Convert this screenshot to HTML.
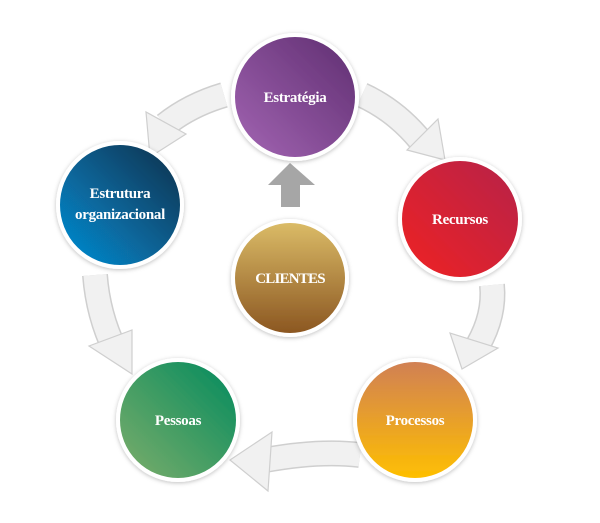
<!DOCTYPE html>
<html><head><style>
html,body{margin:0;padding:0;background:#fff;width:600px;height:523px;overflow:hidden}
text{font-family:"Liberation Serif",serif;font-weight:bold;fill:#fff;font-size:15px;text-anchor:middle;letter-spacing:-0.3px}
</style></head><body>
<svg width="600" height="523" viewBox="0 0 600 523" xmlns="http://www.w3.org/2000/svg">
<defs>
<linearGradient id="gE" x1="1" y1="0" x2="0" y2="1"><stop offset="0" stop-color="#5e2d70"/><stop offset="1" stop-color="#a466b4"/></linearGradient>
<linearGradient id="gR" x1="1" y1="0" x2="0" y2="1"><stop offset="0" stop-color="#b5234a"/><stop offset="1" stop-color="#f02222"/></linearGradient>
<linearGradient id="gP" x1="0" y1="0" x2="0" y2="1"><stop offset="0" stop-color="#d07f55"/><stop offset="1" stop-color="#ffc000"/></linearGradient>
<linearGradient id="gPe" x1="1" y1="0" x2="0" y2="1"><stop offset="0" stop-color="#008a5e"/><stop offset="1" stop-color="#7fae6a"/></linearGradient>
<linearGradient id="gEs" x1="1" y1="0" x2="0" y2="1"><stop offset="0" stop-color="#0a2e48"/><stop offset="1" stop-color="#0590d8"/></linearGradient>
<linearGradient id="gC" x1="0" y1="0" x2="0" y2="1"><stop offset="0" stop-color="#dcbd68"/><stop offset="1" stop-color="#8a5520"/></linearGradient>
<filter id="sh" x="-20%" y="-20%" width="140%" height="140%"><feDropShadow dx="0" dy="1" stdDeviation="2" flood-color="#000" flood-opacity="0.25"/></filter>
</defs>
<g fill="none" stroke-linecap="butt">
<g stroke="#cfcfcf" stroke-width="26">
<path d="M224 95 Q190 105 165 125"/>
<path d="M362 95 Q395 110 420 140"/>
<path d="M492 285 Q495 315 478 345"/>
<path d="M360 455 Q320 450 265 460"/>
<path d="M95 275 Q98 315 115 350"/>
</g>
<g stroke="#f1f1f1" stroke-width="23">
<path d="M224 95 Q190 105 165 125"/>
<path d="M362 95 Q395 110 420 140"/>
<path d="M492 285 Q495 315 478 345"/>
<path d="M360 455 Q320 450 265 460"/>
<path d="M95 275 Q98 315 115 350"/>
</g>
</g>
<g fill="#f1f1f1" stroke="#cfcfcf" stroke-width="1.2">
<polygon points="150,157 146,112 186,134"/>
<polygon points="445,160 407,150 438,119"/>
<polygon points="462,369 450,333 498,348"/>
<polygon points="230,460 272,432 268,491"/>
<polygon points="132,374 89,346 132,330"/>
</g>
<g fill="#a6a6a6">
<rect x="281" y="183" width="19" height="24"/>
<polygon points="268,185 290,163 315,185"/>
</g>
<g stroke="#fff" stroke-width="4" filter="url(#sh)">
<circle cx="295" cy="97" r="62" fill="url(#gE)"/>
<circle cx="460" cy="219" r="60" fill="url(#gR)"/>
<circle cx="415" cy="420" r="60" fill="url(#gP)"/>
<circle cx="178" cy="420" r="60" fill="url(#gPe)"/>
<circle cx="120" cy="205" r="62" fill="url(#gEs)"/>
<circle cx="290" cy="278" r="57" fill="url(#gC)"/>
</g>
<text x="295" y="102">Estratégia</text>
<text x="460" y="224">Recursos</text>
<text x="415" y="425">Processos</text>
<text x="178" y="425">Pessoas</text>
<text x="120" y="198">Estrutura</text>
<text x="120" y="219">organizacional</text>
<text x="290" y="283" style="letter-spacing:-0.8px">CLIENTES</text>
</svg>
</body></html>
